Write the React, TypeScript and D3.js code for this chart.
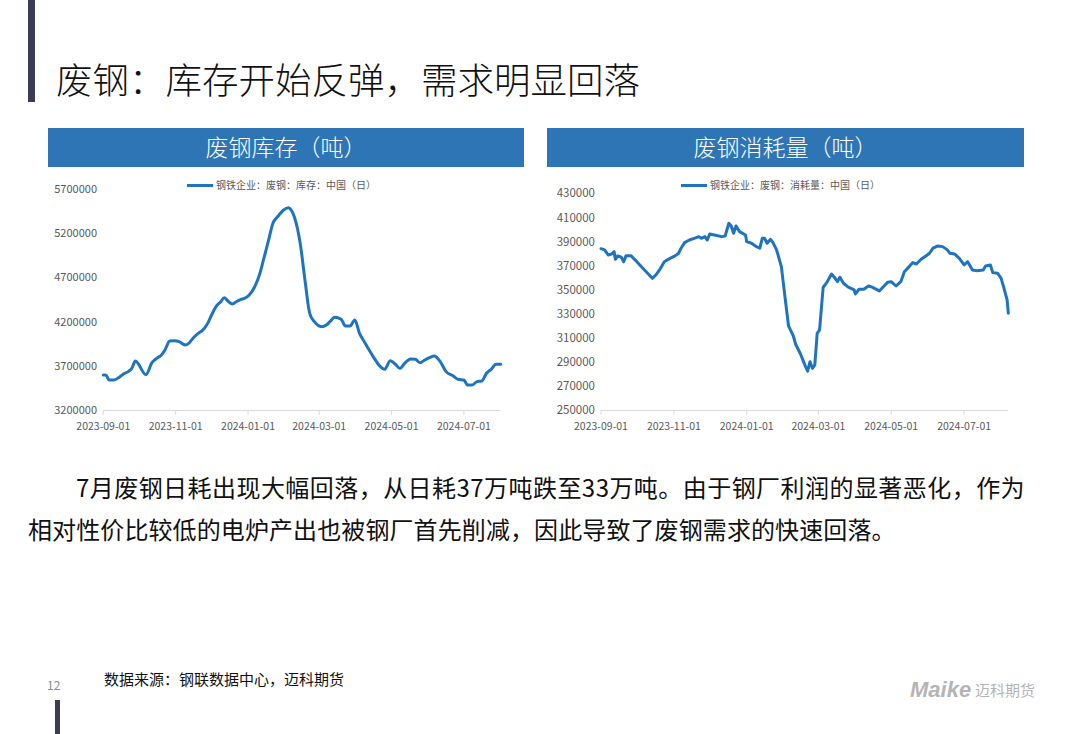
import React from "react";
import * as d3 from "d3";

const FONT = "'Noto Sans CJK SC', 'Noto Sans', sans-serif";
const LINE_COLOR = "#1f74bf";
const HEADER_COLOR = "#2e75b6";

const inventoryDates = [
  "2023-09-01", "2023-09-03", "2023-09-06", "2023-09-10", "2023-09-15", "2023-09-19", "2023-09-22", "2023-09-25",
  "2023-09-28", "2023-10-07", "2023-10-12", "2023-10-16", "2023-10-20", "2023-10-23", "2023-10-27", "2023-10-31",
  "2023-11-04", "2023-11-09", "2023-11-12", "2023-11-16", "2023-11-20", "2023-11-24", "2023-11-28", "2023-12-02",
  "2023-12-05", "2023-12-09", "2023-12-12", "2023-12-15", "2023-12-19", "2023-12-22", "2023-12-26", "2023-12-29",
  "2024-01-02", "2024-01-07", "2024-01-11", "2024-01-14", "2024-01-18", "2024-01-22", "2024-01-26", "2024-01-31",
  "2024-02-04", "2024-02-06", "2024-02-09", "2024-02-14", "2024-02-18", "2024-02-22", "2024-02-26", "2024-03-03",
  "2024-03-07", "2024-03-10", "2024-03-14", "2024-03-18", "2024-03-20", "2024-03-23", "2024-03-27", "2024-03-31",
  "2024-04-04", "2024-04-08", "2024-04-13", "2024-04-17", "2024-04-21", "2024-04-25", "2024-04-30", "2024-05-04",
  "2024-05-08", "2024-05-12", "2024-05-17", "2024-05-21", "2024-05-25", "2024-05-29", "2024-06-02", "2024-06-06",
  "2024-06-11", "2024-06-16", "2024-06-22", "2024-06-26", "2024-07-01", "2024-07-04", "2024-07-08", "2024-07-12",
  "2024-07-16", "2024-07-20", "2024-07-24", "2024-07-28", "2024-08-01",
];
const inventoryValues = [
  3596000, 3596000, 3539000, 3539000, 3577000, 3615000, 3634000, 3671000,
  3754000, 3600000, 3735000, 3784000, 3822000, 3879000, 3980000, 3984000,
  3973000, 3935000, 3954000, 4018000, 4067000, 4105000, 4180000, 4294000,
  4369000, 4425000, 4471000, 4433000, 4399000, 4425000, 4452000, 4463000,
  4501000, 4603000, 4746000, 4897000, 5104000, 5312000, 5387000, 5462000,
  5489000, 5470000, 5387000, 5085000, 4671000, 4294000, 4199000, 4143000,
  4162000, 4199000, 4248000, 4237000, 4218000, 4150000, 4150000, 4218000,
  4067000, 3973000, 3860000, 3773000, 3698000, 3660000, 3758000, 3720000,
  3671000, 3728000, 3777000, 3773000, 3735000, 3766000, 3792000, 3811000,
  3747000, 3634000, 3585000, 3547000, 3539000, 3483000, 3483000, 3521000,
  3528000, 3615000, 3660000, 3717000, 3717000,
];

const consumptionDates = [
  "2023-09-01", "2023-09-04", "2023-09-07", "2023-09-10", "2023-09-12", "2023-09-13", "2023-09-15", "2023-09-18",
  "2023-09-20", "2023-09-22", "2023-09-26", "2023-10-01", "2023-10-06", "2023-10-10", "2023-10-14", "2023-10-17",
  "2023-10-20", "2023-10-24", "2023-10-28", "2023-11-02", "2023-11-05", "2023-11-07", "2023-11-10", "2023-11-14",
  "2023-11-18", "2023-11-22", "2023-11-24", "2023-11-27", "2023-11-29", "2023-12-01", "2023-12-05", "2023-12-11",
  "2023-12-14", "2023-12-17", "2023-12-19", "2023-12-21", "2023-12-23", "2023-12-26", "2023-12-31", "2024-01-01",
  "2024-01-05", "2024-01-09", "2024-01-12", "2024-01-14", "2024-01-16", "2024-01-18", "2024-01-21", "2024-01-23",
  "2024-01-26", "2024-01-30", "2024-02-02", "2024-02-05", "2024-02-09", "2024-02-11", "2024-02-15", "2024-02-19",
  "2024-02-21", "2024-02-23", "2024-02-25", "2024-02-27", "2024-02-29", "2024-03-02", "2024-03-05", "2024-03-08",
  "2024-03-12", "2024-03-15", "2024-03-17", "2024-03-19", "2024-03-22", "2024-03-26", "2024-03-31", "2024-04-01",
  "2024-04-04", "2024-04-08", "2024-04-12", "2024-04-15", "2024-04-21", "2024-04-25", "2024-04-28", "2024-05-01",
  "2024-05-05", "2024-05-09", "2024-05-12", "2024-05-16", "2024-05-19", "2024-05-22", "2024-05-26", "2024-05-30",
  "2024-06-02", "2024-06-05", "2024-06-09", "2024-06-13", "2024-06-17", "2024-06-19", "2024-06-23", "2024-06-27",
  "2024-07-01", "2024-07-04", "2024-07-08", "2024-07-12", "2024-07-17", "2024-07-19", "2024-07-23", "2024-07-25",
  "2024-07-29", "2024-08-01", "2024-08-03", "2024-08-06", "2024-08-07",
];
const consumptionValues = [
  384000, 383000, 378800, 379600, 381500, 375200, 378000, 376900,
  373200, 378200, 378200, 373200, 367700, 363600, 359400, 362200,
  366300, 373200, 375500, 378000, 380200, 384400, 389000, 391200,
  392600, 394000, 392600, 394000, 391200, 396200, 395400, 394000,
  394600, 405100, 402900, 396800, 402900, 398200, 395400, 389800,
  388500, 385700, 384400, 392600, 392600, 388500, 391800, 389000,
  383000, 369100, 344200, 319800, 311500, 304600, 296500, 286700,
  282300, 290100, 284600, 287400, 313700, 316500, 352000, 355800,
  363000, 359400, 356600, 360300, 355300, 352000, 349700, 346400,
  350300, 350300, 353000, 352000, 348900, 353000, 356100, 356600,
  353000, 356600, 364900, 369100, 372400, 371300, 375200, 378000,
  380200, 384400, 386300, 385700, 383000, 380200, 379600, 376000,
  370500, 373200, 366300, 365700, 366300, 369600, 370500, 364100,
  363600, 359400, 352500, 341400, 330400,
];

const xTickLabels = ["2023-09-01", "2023-11-01", "2024-01-01", "2024-03-01", "2024-05-01", "2024-07-01"];
const inventoryTicks = [3200000, 3700000, 4200000, 4700000, 5200000, 5700000];
const consumptionTicks = [250000, 270000, 290000, 310000, 330000, 350000, 370000, 390000, 410000, 430000];

const parse = d3.utcParse("%Y-%m-%d");

type ChartProps = {
  dates: string[];
  values: number[];
  ticks: number[];
  yDomain: [number, number];
  xDomain: [string, string];
  x0: number;
  x1: number;
  yTop: number;
  yBottom: number;
  labelRight: number;
  yFont: number;
  legend: string;
  legendX: number;
  smooth: boolean;
};

function LineChart(p: ChartProps) {
  const x = d3.scaleUtc().domain([parse(p.xDomain[0])!, parse(p.xDomain[1])!]).range([p.x0, p.x1]);
  const y = d3.scaleLinear().domain(p.yDomain).range([p.yBottom, p.yTop]);
  const pts = p.dates.map((d, i) => [x(parse(d)!), y(p.values[i])] as [number, number]);
  const line = d3.line().curve(p.smooth ? d3.curveMonotoneX : d3.curveLinear);
  return (
    <g>
      <line x1={p.x0} x2={p.x1} y1={p.yBottom + 0.5} y2={p.yBottom + 0.5} stroke="#d9d9d9" strokeWidth={1} />
      {xTickLabels.map((t) => {
        const tx = x(parse(t)!);
        return (
          <g key={t}>
            <line x1={tx} x2={tx} y1={p.yBottom} y2={p.yBottom + 5} stroke="#d9d9d9" />
            <text x={tx} y={p.yBottom + 20} textAnchor="middle" fontSize={10.5} fill="#595959" fontFamily={FONT}>
              {t}
            </text>
          </g>
        );
      })}
      {p.ticks.map((t) => (
        <text key={t} x={p.labelRight} y={y(t)} dy="0.36em" textAnchor="end" fontSize={p.yFont} fill="#595959" fontFamily={FONT}>
          {t}
        </text>
      ))}
      <path d={line(pts) || ""} fill="none" stroke={LINE_COLOR} strokeWidth={3} strokeLinejoin="round" strokeLinecap="round" />
      <line x1={p.legendX} x2={p.legendX + 26} y1={185.5} y2={185.5} stroke={LINE_COLOR} strokeWidth={3} />
      <text x={p.legendX + 29} y={185.5} dy="0.36em" fontSize={10} fill="#595959" fontFamily={FONT}>
        {p.legend}
      </text>
    </g>
  );
}

export default function App() {
  return (
    <div style={{ position: "absolute", left: 0, top: 0, width: 1080, height: 734, background: "#fff" }}>
      <svg width={1080} height={734} style={{ display: "block" }}>
        <rect x={0} y={0} width={1080} height={734} fill="#fff" />
        <rect x={28} y={0} width={7} height={102} fill="#3b3d57" />
        <text x={56} y={94} fontSize={36.5} fontWeight={300} fill="#111" fontFamily={FONT}>
          废钢：库存开始反弹，需求明显回落
        </text>

        <rect x={48} y={128} width={476} height={39} fill={HEADER_COLOR} />
        <text x={286} y={148} dy="0.36em" textAnchor="middle" fontSize={23} fontWeight={300} fill="#fff" fontFamily={FONT}>
          废钢库存（吨）
        </text>
        <rect x={547} y={128} width={477} height={39} fill={HEADER_COLOR} />
        <text x={785.5} y={148} dy="0.36em" textAnchor="middle" fontSize={23} fontWeight={300} fill="#fff" fontFamily={FONT}>
          废钢消耗量（吨）
        </text>

        <LineChart
          dates={inventoryDates}
          values={inventoryValues}
          ticks={inventoryTicks}
          yDomain={[3200000, 5700000]}
          xDomain={["2023-09-01", "2024-08-01"]}
          x0={103.3}
          x1={500.7}
          yTop={189}
          yBottom={410}
          labelRight={97}
          yFont={11}
          legend="钢铁企业：废钢：库存：中国（日）"
          legendX={187}
          smooth={true}
        />
        <LineChart
          dates={consumptionDates}
          values={consumptionValues}
          ticks={consumptionTicks}
          yDomain={[250000, 430000]}
          xDomain={["2023-09-01", "2024-08-07"]}
          x0={601}
          x1={1008.3}
          yTop={193.3}
          yBottom={410}
          labelRight={595}
          yFont={11.5}
          legend="钢铁企业：废钢：消耗量：中国（日）"
          legendX={681}
          smooth={false}
        />

        <text x={76} y={497} fontSize={24} letterSpacing={0.45} fill="#111" fontFamily={FONT}>
          7月废钢日耗出现大幅回落，从日耗37万吨跌至33万吨。由于钢厂利润的显著恶化，作为
        </text>
        <text x={28} y={539} fontSize={24} letterSpacing={0.1} fill="#111" fontFamily={FONT}>
          相对性价比较低的电炉产出也被钢厂首先削减，因此导致了废钢需求的快速回落。
        </text>

        <text x={47} y={690} fontSize={12} fill="#8c8c8c" fontFamily={FONT}>
          12
        </text>
        <text x={104} y={685} fontSize={15} fill="#111" fontFamily={FONT}>
          数据来源：钢联数据中心，迈科期货
        </text>
        <rect x={55} y={700} width={5} height={34} fill="#3b3d57" />

        <text x={910} y={697} fontSize={22} fontWeight={700} fontStyle="italic" fill="#b4b4b4" fontFamily="'Liberation Sans', Arial, sans-serif">
          Maike
        </text>
        <text x={975} y={696} fontSize={15} fill="#b4b4b4" fontFamily={FONT}>
          迈科期货
        </text>
      </svg>
    </div>
  );
}
